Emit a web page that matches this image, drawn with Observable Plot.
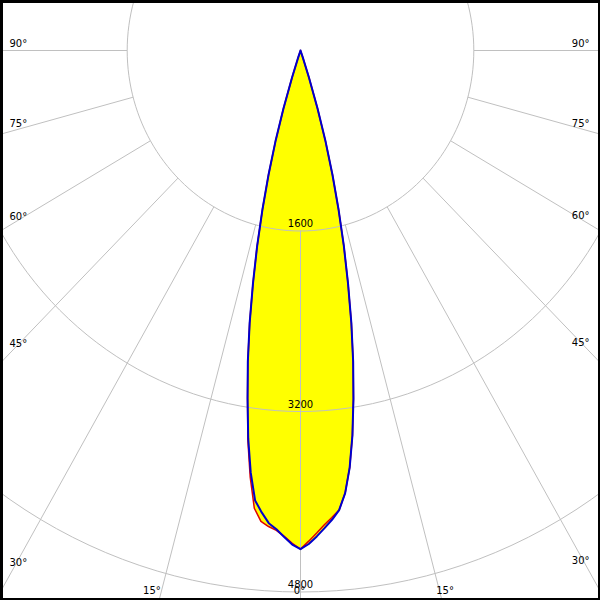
<!DOCTYPE html>
<html>
<head>
<meta charset="utf-8">
<style>
html,body{margin:0;padding:0;background:#fff;overflow:hidden}
#chart svg{display:block}
</style>
<script src="https://cdn.jsdelivr.net/npm/d3@7"></script>
<script src="https://cdn.jsdelivr.net/npm/@observablehq/plot@0.6"></script>
</head>
<body>
<div id="chart"></div>
<script>
// ---- data (luminous intensity, cd) ----
const angles    = [0, 1, 2, 3, 4, 5, 6, 7, 8, 9, 10, 11, 12, 13, 14, 15, 16, 17, 18, 19, 20];
// blue curve, right half (C0) and left half (C180)
const blueRight = [4420, 4375, 4310, 4240, 4170, 4090, 3945, 3725, 3445, 3125, 2800, 2460, 2110, 1780, 1450, 1140, 840, 540, 250, 60, 0];
const blueLeft  = [4420, 4380, 4315, 4250, 4200, 4110, 4010, 3770, 3470, 3125, 2800, 2460, 2110, 1780, 1450, 1140, 840, 540, 250, 60, 0];
// red curve, right half (C90) and left half (C270)
const redRight  = [4420, 4350, 4280, 4210, 4150, 4090, 3945, 3725, 3445, 3125, 2800, 2460, 2110, 1780, 1450, 1140, 840, 540, 250, 60, 0];
const redLeft   = [4420, 4370, 4310, 4260, 4230, 4190, 4080, 3810, 3490, 3125, 2800, 2460, 2110, 1780, 1450, 1140, 840, 540, 250, 60, 0];
const ringValues = [1600, 3200, 4800];
const angleTicks = [90, 75, 60, 45, 30, 15, 0];

// ---- layout ----
const W = 600, H = 600;
const CX = 300, CY = 50;              // pole position in pixels
const KX = 173.3 / 1600, KY = 180.5 / 1600; // px per cd
const dataX = px => (px - CX) / KX;
const dataY = py => -(py - CY) / KY;
const rad = Math.PI / 180;
const polar = (a, r) => ({x: r * Math.sin(a * rad), y: -r * Math.cos(a * rad)});

function lobe(right, left) {
  const pts = [];
  for (let i = angles.length - 1; i >= 0; i--) pts.push(polar(angles[i], right[i]));
  for (let i = 1; i < angles.length; i++) pts.push(polar(-angles[i], left[i]));
  return pts;
}
const redPts = lobe(redRight, redLeft);
const bluePts = lobe(blueRight, blueLeft);

// grid rings
const rings = [];
for (const r of ringValues) for (let a = 0; a <= 360; a += 2) rings.push({r, ...polar(a, r)});
// rays
const rays = [];
for (const a of angleTicks) {
  const sides = a === 0 ? [1] : [-1, 1];
  for (const s of sides) {
    const p1 = polar(s * a, ringValues[0]), p2 = polar(s * a, 9000);
    rays.push({x1: p1.x, y1: p1.y, x2: p2.x, y2: p2.y});
  }
}
// ring labels
const ringLabels = ringValues.map(r => ({x: 0, y: -r, text: String(r)}));
// angle labels placed near the frame along each ray
const angleLabels = [];
for (const a of angleTicks) {
  const sides = a === 0 ? [0] : [-1, 1];
  for (const s of sides) {
    let px, py, anchor;
    if (a >= 30) {
      const cx = s < 0 ? 18 : 581;
      const xcd = Math.abs(cx - CX) / KX;
      const rayY = a === 90 ? CY : CY + (xcd / Math.tan(a * rad)) * KY;
      const mid = rayY - 8 + 0.0217 * (rayY - CY);
      py = mid + 4;
      px = s < 0 ? 9 : 589;
      anchor = s < 0 ? "start" : "end";
    } else if (a > 0) {
      const mid = 589;
      const ycd = (mid - CY) / KY;
      const rx = CX + s * ycd * Math.tan(a * rad) * KX;
      py = mid + 4;
      px = s < 0 ? rx - 1 : rx - 3;
      anchor = s < 0 ? "end" : "start";
    } else {
      px = 299; py = 593; anchor = "middle";
    }
    angleLabels.push({x: dataX(px), y: dataY(py), text: a + "°", anchor});
  }
}

const grid = "#c0c0c0";
const chart = Plot.plot({
  width: W, height: H, margin: 0,
  x: {domain: [dataX(0), dataX(W)], axis: null},
  y: {domain: [dataY(H), dataY(0)], axis: null},
  style: {fontFamily: "'DejaVu Sans', Verdana, sans-serif", fontSize: "10px", background: "#fff", color: "#000"},
  marks: [
    Plot.line(redPts, {x: "x", y: "y", fill: "#ffff00", stroke: "none"}),
    Plot.line(bluePts, {x: "x", y: "y", fill: "#ffff00", stroke: "none"}),
    Plot.line(rings, {x: "x", y: "y", z: "r", stroke: grid, strokeWidth: 1}),
    Plot.link(rays, {x1: "x1", y1: "y1", x2: "x2", y2: "y2", stroke: grid, strokeWidth: 1}),
    Plot.text(ringLabels, {x: "x", y: "y", text: "text", dy: -4, lineAnchor: "bottom", fill: "#000"}),
    Plot.text(angleLabels.filter(d => d.anchor === "start"), {x: "x", y: "y", text: "text", textAnchor: "start", lineAnchor: "bottom", fill: "#000"}),
    Plot.text(angleLabels.filter(d => d.anchor === "end"), {x: "x", y: "y", text: "text", textAnchor: "end", lineAnchor: "bottom", fill: "#000"}),
    Plot.text(angleLabels.filter(d => d.anchor === "middle"), {x: "x", y: "y", text: "text", textAnchor: "middle", lineAnchor: "bottom", fill: "#000"}),
    Plot.line(redPts, {x: "x", y: "y", stroke: "#e00000", strokeWidth: 1.5}),
    Plot.line(bluePts, {x: "x", y: "y", stroke: "#0000cc", strokeWidth: 2}),
    Plot.frame({stroke: "#000", strokeWidth: 5})
  ]
});
document.getElementById("chart").appendChild(chart);
</script>
</body>
</html>
